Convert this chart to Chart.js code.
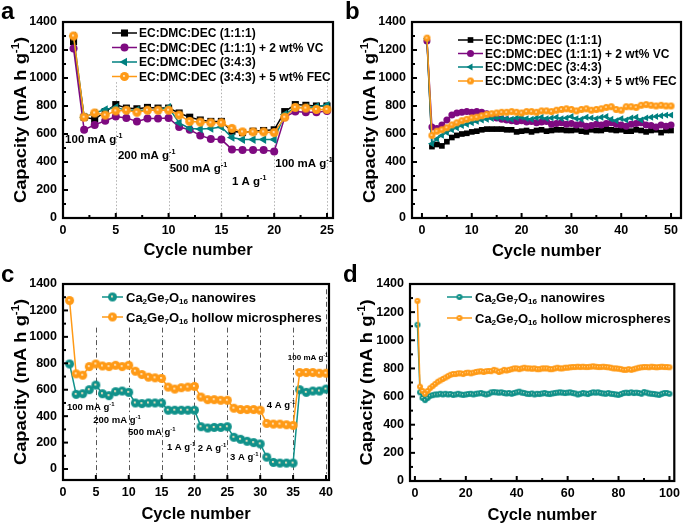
<!DOCTYPE html>
<html>
<head>
<meta charset="utf-8">
<script src="https://cdn.jsdelivr.net/npm/chart.js@4.4.1/dist/chart.umd.min.js"></script>
<style>
  body { margin: 0; background: #fff; width: 685px; height: 524px; overflow: hidden; position: relative; }
  canvas { position: absolute; }
</style>
</head>
<body>
<canvas id="ca" width="342" height="262" style="left:0;top:0"></canvas>
<canvas id="cb" width="343" height="262" style="left:342px;top:0"></canvas>
<canvas id="cc" width="342" height="262" style="left:0;top:262px"></canvas>
<canvas id="cd" width="343" height="262" style="left:342px;top:262px"></canvas>
<script>
const FONT = '"Liberation Sans", Arial, Helvetica, sans-serif';

// shared axis ticks
const yTicks = [0, 200, 400, 600, 800, 1000, 1200, 1400];
const yMinor = [100, 300, 500, 700, 900, 1100, 1300];

// ---- panel a: rate test, four electrolytes (cycles 1..25)
const xTicksA = [0, 5, 10, 15, 20, 25];
const xMinorA = [2.5, 7.5, 12.5, 17.5, 22.5];
const aBlack  = [1260, 720, 705, 760, 810, 785, 780, 790, 785, 785, 750, 720, 700, 690, 690, 620, 610, 620, 625, 630, 760, 810, 805, 800, 800];
const aPurple = [1210, 630, 665, 695, 725, 715, 690, 710, 710, 715, 650, 630, 590, 565, 560, 490, 485, 485, 485, 475, 720, 760, 755, 755, 765];
const aTeal   = [1300, 720, 750, 775, 790, 770, 770, 770, 770, 790, 680, 640, 635, 640, 650, 575, 560, 560, 560, 560, 740, 790, 790, 795, 805];
const aOrange = [1300, 720, 750, 735, 765, 770, 755, 770, 770, 770, 735, 690, 685, 680, 680, 640, 615, 615, 615, 610, 720, 790, 785, 775, 775];

// ---- panel b: cycling, four electrolytes (cycles 1..50)
const xTicksB = [0, 10, 20, 30, 40, 50];
const xMinorB = [5, 15, 25, 35, 45];
const bBlack  = [1270, 510, 525, 515, 545, 575, 590, 600, 605, 615, 620, 630, 635, 635, 635, 635, 630, 630, 615, 620,
                 625, 615, 625, 630, 620, 625, 630, 630, 625, 625, 630, 620, 615, 630, 625, 625, 635, 630, 625, 630,
                 620, 620, 630, 625, 615, 625, 630, 610, 625, 625];
const bPurple = [1265, 650, 640, 665, 700, 735, 750, 755, 760, 755, 760, 755, 745, 730, 715, 705, 700, 695, 690, 695,
                 685, 690, 680, 685, 690, 670, 675, 680, 670, 675, 665, 670, 655, 660, 670, 665, 675, 680, 670, 665,
                 655, 670, 675, 680, 665, 660, 650, 665, 655, 665];
const bTeal   = [1280, 530, 565, 590, 610, 630, 645, 660, 670, 680, 690, 700, 705, 710, 715, 715, 710, 705, 715, 720,
                 710, 705, 715, 720, 710, 715, 720, 710, 715, 725, 710, 705, 720, 715, 710, 720, 725, 705, 695, 710,
                 700, 715, 720, 700, 715, 720, 725, 730, 735, 735];
const bOrange = [1285, 590, 620, 630, 645, 665, 680, 695, 705, 715, 720, 730, 740, 745, 750, 755, 755, 760, 755, 750,
                 760, 760, 755, 765, 765, 760, 770, 775, 780, 775, 765, 775, 780, 770, 775, 780, 790, 795, 775, 770,
                 795, 795, 790, 805, 810, 805, 800, 805, 800, 800];

// ---- panel c: rate test, nanowires vs hollow microspheres (cycles 1..40)
const xTicksC = [0, 5, 10, 15, 20, 25, 30, 35, 40];
const cWires  = [795, 565, 570, 600, 635, 570, 555, 585, 590, 580, 500, 495, 500, 500, 500, 445, 445, 445, 445, 445,
                 320, 310, 315, 315, 320, 240, 225, 210, 200, 190, 90, 50, 45, 45, 45, 600, 580, 590, 590, 605];
const cSpheres = [1275, 720, 710, 775, 795, 780, 775, 785, 775, 785, 740, 715, 695, 690, 685, 620, 605, 615, 620, 625,
                  545, 525, 525, 520, 520, 460, 450, 450, 450, 445, 345, 340, 340, 335, 330, 730, 730, 730, 725, 725];

// ---- panel d: cycling, nanowires vs hollow microspheres (cycles 1..100)
const xTicksD = [0, 20, 40, 60, 80, 100];
const xMinorD = [10, 30, 50, 70, 90];
const dWires = [1110, 630, 590, 575, 590, 605, 610, 615, 615, 620, 615, 620, 615, 618, 612, 615, 620, 615, 612, 615,
                618, 620, 615, 620, 622, 625, 620, 615, 620, 630, 632, 630, 628, 630, 625, 622, 625, 620, 625, 630,
                635, 628, 625, 620, 618, 622, 615, 620, 618, 622, 625, 620, 618, 622, 625, 628, 630, 628, 625, 628,
                630, 625, 622, 615, 620, 625, 622, 618, 625, 630, 628, 630, 625, 622, 620, 625, 620, 618, 615, 612,
                618, 625, 628, 625, 630, 625, 628, 625, 620, 632, 628, 622, 620, 618, 615, 612, 620, 625, 625, 620];
const dSpheres = [1280, 670, 640, 620, 640, 660, 675, 690, 705, 715, 725, 735, 745, 755, 760, 760, 765, 765, 760, 768,
                  770, 765, 770, 775, 778, 780, 775, 780, 782, 780, 790, 785, 775, 780, 790, 785, 790, 795, 800, 800,
                  795, 800, 805, 800, 800, 798, 800, 795, 795, 800, 800, 800, 795, 795, 800, 805, 800, 800, 805, 805,
                  808, 810, 810, 812, 810, 812, 810, 810, 812, 815, 812, 810, 810, 812, 810, 808, 805, 800, 800, 798,
                  795, 790, 790, 795, 790, 795, 800, 805, 808, 810, 810, 808, 812, 810, 808, 810, 812, 810, 810, 808];

const BLACK = '#000000', PURPLE = '#7e0a80', TEAL = '#008080', TEAL2 = '#10918a', ORANGE = '#ff9a16';

function toPts(arr) { return arr.map((v, i) => ({ x: i + 1, y: v })); }

// shaded ball marker (orange / teal circles with a small light centre)
function ball(color, r) {
  const c = document.createElement('canvas');
  const s = Math.ceil(r * 2 + 2);
  c.width = c.height = s;
  const g = c.getContext('2d');
  const m = s / 2;
  const grad = g.createRadialGradient(m - r * 0.15, m - r * 0.15, 0, m, m, r);
  grad.addColorStop(0, '#fffaf0');
  grad.addColorStop(0.12, '#ffe6c0');
  grad.addColorStop(0.35, color);
  grad.addColorStop(1, color);
  g.fillStyle = grad;
  g.beginPath(); g.arc(m, m, r, 0, Math.PI * 2); g.fill();
  return c;
}

function series(label, data, color, style, r, order) {
  const img = style === 'ball' ? ball(color, r) : null;
  return {
    label, data: toPts(data), order,
    borderColor: color, backgroundColor: color, borderWidth: 1.5,
    pointStyle: img || style, pointRadius: r, pointRotation: style === 'triangle' ? -90 : 0,
    pointBorderWidth: 0, pointBackgroundColor: color, pointBorderColor: color,
    tension: 0, fill: false
  };
}

// text with sub/superscripts: parts are strings or [text, 'sub'|'sup']
function richWidth(ctx, parts, size) {
  let w = 0;
  parts.forEach(p => {
    const small = typeof p !== 'string';
    ctx.font = `bold ${small ? size * 0.62 : size}px ${FONT}`;
    w += ctx.measureText(small ? p[0] : p).width;
  });
  return w;
}
function drawRich(ctx, parts, x, y, size, align) {
  let cx = align === 'center' ? x - richWidth(ctx, parts, size) / 2 : x;
  const base = y + size * 0.36;
  ctx.textAlign = 'left'; ctx.textBaseline = 'alphabetic'; ctx.fillStyle = '#000';
  parts.forEach(p => {
    if (typeof p === 'string') {
      ctx.font = `bold ${size}px ${FONT}`;
      ctx.fillText(p, cx, base);
      cx += ctx.measureText(p).width;
    } else {
      ctx.font = `bold ${size * 0.62}px ${FONT}`;
      const dy = p[1] === 'sup' ? -size * 0.42 : size * 0.2;
      ctx.fillText(p[0], cx, base + dy);
      cx += ctx.measureText(p[0]).width;
    }
  });
}

const decor = {
  id: 'decor',
  beforeDatasetsDraw(chart, args, o) {
    const { ctx } = chart, x = chart.scales.x, y = chart.scales.y;
    (o.vlines || []).forEach(v => {
      ctx.save();
      ctx.strokeStyle = v.color; ctx.lineWidth = 1; ctx.setLineDash(v.dash);
      ctx.beginPath();
      const px = Math.round(x.getPixelForValue(v.x)) + 0.5;
      ctx.moveTo(px, y.getPixelForValue(v.from));
      ctx.lineTo(px, chart.chartArea.bottom);
      ctx.stroke();
      ctx.restore();
    });
  },
  afterDraw(chart, args, o) {
    const { ctx, chartArea: a } = chart, x = chart.scales.x, y = chart.scales.y;
    ctx.save();
    // inward ticks
    ctx.strokeStyle = '#000'; ctx.lineWidth = 2;
    const tick = (px, py, dx, dy) => { ctx.beginPath(); ctx.moveTo(px, py); ctx.lineTo(px + dx, py + dy); ctx.stroke(); };
    o.xTicks.forEach(v => tick(x.getPixelForValue(v), a.bottom, 0, -5));
    (o.xMinor || []).forEach(v => tick(x.getPixelForValue(v), a.bottom, 0, -3));
    yTicks.forEach(v => tick(a.left, y.getPixelForValue(v), 5, 0));
    yMinor.forEach(v => tick(a.left, y.getPixelForValue(v), 3, 0));
    // frame
    ctx.lineWidth = 2.2;
    ctx.strokeRect(a.left, a.top, a.right - a.left, a.bottom - a.top);
    // axis titles
    drawRich(ctx, ['Cycle number'], (a.left + a.right) / 2, o.xTitleY, 16.5, 'center');
    ctx.save();
    ctx.translate(o.yTitleX, (a.top + a.bottom) / 2);
    ctx.rotate(-Math.PI / 2);
    ctx.scale(1.08, 1);
    drawRich(ctx, ['Capacity (mA h g', ['-1', 'sup'], ')'], 0, 0, 17, 'center');
    ctx.restore();
    // panel letter
    ctx.font = `bold 24px ${FONT}`; ctx.textAlign = 'left'; ctx.textBaseline = 'alphabetic';
    ctx.fillText(o.letter, o.letterX, o.letterY);
    // legend
    const L = o.legend;
    chart.data.datasets.forEach((ds, i) => {
      const ly = L.rows[i];
      ctx.strokeStyle = ds.borderColor; ctx.lineWidth = 1.5;
      ctx.beginPath(); ctx.moveTo(L.x1, ly); ctx.lineTo(L.x2, ly); ctx.stroke();
      const mx = (L.x1 + L.x2) / 2;
      if (ds.pointStyle instanceof HTMLCanvasElement) {
        const im = ds.pointStyle;
        ctx.drawImage(im, mx - im.width / 2, ly - im.height / 2);
      } else {
        ctx.fillStyle = ds.backgroundColor;
        Chart.helpers.drawPoint(ctx, { pointStyle: ds.pointStyle, radius: ds.pointRadius, rotation: ds.pointRotation, borderWidth: 0 }, mx, ly);
      }
      drawRich(ctx, L.labels[i], L.tx, ly, L.size, 'left');
    });
    // current density annotations
    (o.notes || []).forEach(n => {
      drawRich(ctx, n.t, x.getPixelForValue(n.x), y.getPixelForValue(n.y), n.size, 'left');
    });
    ctx.restore();
  }
};

function makeChart(id, c) {
  const tickFont = { family: FONT, size: 12.5, weight: 'bold' };
  return new Chart(document.getElementById(id), {
    type: 'line',
    data: { datasets: c.datasets },
    options: {
      responsive: false, animation: false,
      layout: { padding: { top: c.padTop, right: c.padRight, left: 0, bottom: 0 } },
      plugins: { legend: { display: false }, tooltip: { enabled: false }, decor: c.decor },
      scales: {
        x: {
          type: 'linear', min: c.xMin, max: c.xMax,
          grid: { display: false, drawTicks: false }, border: { display: false },
          afterBuildTicks: s => { s.ticks = c.decor.xTicks.map(v => ({ value: v })); },
          afterFit: s => { s.height = c.xAxisH; },
          ticks: { font: tickFont, color: '#000', padding: 5, maxRotation: 0, autoSkip: false, callback: v => String(v) }
        },
        y: {
          type: 'linear', min: c.yMin, max: 1400,
          grid: { display: false, drawTicks: false }, border: { display: false },
          afterBuildTicks: s => { s.ticks = yTicks.map(v => ({ value: v })); },
          afterFit: s => { s.width = c.yAxisW; },
          ticks: { font: tickFont, color: '#000', padding: 6, autoSkip: false, callback: v => String(v) }
        }
      }
    },
    plugins: [decor]
  });
}

const sup1 = ['-1', 'sup'];
const elecLabels = [
  ['EC:DMC:DEC (1:1:1)'],
  ['EC:DMC:DEC (1:1:1) + 2 wt% VC'],
  ['EC:DMC:DEC (3:4:3)'],
  ['EC:DMC:DEC (3:4:3) + 5 wt% FEC']
];
const cgoLabels = [
  ['Ca', ['2', 'sub'], 'Ge', ['7', 'sub'], 'O', ['16', 'sub'], ' nanowires'],
  ['Ca', ['2', 'sub'], 'Ge', ['7', 'sub'], 'O', ['16', 'sub'], ' hollow microspheres']
];
const greyDots = { color: '#b0b0b0', dash: [1.5, 2] };
const dashDot = { color: '#555555', dash: [5, 3, 1.5, 3] };

makeChart('ca', {
  xMin: 0, xMax: 25.57, yMin: 0, padTop: 22, padRight: 9, xAxisH: 44, yAxisW: 63,
  datasets: [
    series('EC:DMC:DEC (1:1:1)', aBlack, BLACK, 'rect', 5, 3),
    series('EC:DMC:DEC (1:1:1) + 2 wt% VC', aPurple, PURPLE, 'circle', 4, 2),
    series('EC:DMC:DEC (3:4:3)', aTeal, TEAL, 'triangle', 5, 1),
    series('EC:DMC:DEC (3:4:3) + 5 wt% FEC', aOrange, ORANGE, 'ball', 4.5, 0)
  ],
  decor: {
    xTicks: xTicksA, xMinor: xMinorA, xTitleY: 249, yTitleX: 20, letter: 'a', letterX: 1, letterY: 19,
    vlines: [5, 10, 15, 20, 25].map(v => ({ x: v, from: 970, ...greyDots })),
    legend: { x1: 112, x2: 137, tx: 139, rows: [33, 47.5, 62, 76.5], size: 12, labels: elecLabels },
    notes: [
      { t: ['100 mA g', sup1], x: 0.2, y: 564, size: 11.5 },
      { t: ['200 mA g', sup1], x: 5.2, y: 450, size: 11.5 },
      { t: ['500 mA g', sup1], x: 10.1, y: 357, size: 11.5 },
      { t: ['1 A g', sup1], x: 16.0, y: 264, size: 11.5 },
      { t: ['100 mA g', sup1], x: 20.1, y: 393, size: 11.5 }
    ]
  }
});

makeChart('cb', {
  xMin: -2, xMax: 52, yMin: 0, padTop: 22, padRight: 4, xAxisH: 44, yAxisW: 70,
  datasets: [
    series('EC:DMC:DEC (1:1:1)', bBlack, BLACK, 'rect', 4, 3),
    series('EC:DMC:DEC (1:1:1) + 2 wt% VC', bPurple, PURPLE, 'circle', 3.5, 2),
    series('EC:DMC:DEC (3:4:3)', bTeal, TEAL, 'triangle', 4, 1),
    series('EC:DMC:DEC (3:4:3) + 5 wt% FEC', bOrange, ORANGE, 'ball', 3.5, 0)
  ],
  decor: {
    xTicks: xTicksB, xMinor: xMinorB, xTitleY: 250, yTitleX: 27, letter: 'b', letterX: 3, letterY: 19,
    legend: { x1: 116, x2: 141, tx: 143, rows: [40, 53.5, 67, 81], size: 12, labels: elecLabels }
  }
});

makeChart('cc', {
  xMin: 0, xMax: 40.46, yMin: -83, padTop: 22, padRight: 13, xAxisH: 44, yAxisW: 63,
  datasets: [
    series('nanowires', cWires, TEAL2, 'ball', 4.5, 1),
    series('hollow microspheres', cSpheres, ORANGE, 'ball', 4.5, 0)
  ],
  decor: {
    xTicks: xTicksC, xTitleY: 251, yTitleX: 20, letter: 'c', letterX: 1, letterY: 20,
    vlines: [5, 10, 15, 20, 25, 30, 35].map(v => ({ x: v, from: 1070, ...dashDot })).concat([{ x: 40, from: 1360, ...dashDot }]),
    legend: { x1: 102, x2: 123, tx: 126, rows: [35, 55], size: 13, labels: cgoLabels },
    notes: [
      { t: ['100 mA g', sup1], x: 0.6, y: 471, size: 9.5 },
      { t: ['200 mA g', sup1], x: 4.6, y: 372, size: 9.5 },
      { t: ['500 mA g', sup1], x: 9.9, y: 281, size: 9.5 },
      { t: ['1 A g', sup1], x: 15.8, y: 170, size: 9.5 },
      { t: ['2 A g', sup1], x: 20.5, y: 165, size: 9.5 },
      { t: ['3 A g', sup1], x: 25.4, y: 91, size: 9.5 },
      { t: ['4 A g', sup1], x: 31.0, y: 486, size: 9.5 },
      { t: ['100 mA g', sup1], x: 34.2, y: 843, size: 8 }
    ]
  }
});

makeChart('cd', {
  xMin: -1.93, xMax: 101.9, yMin: 0, padTop: 22, padRight: 6, xAxisH: 43, yAxisW: 68,
  datasets: [
    series('nanowires', dWires, TEAL2, 'ball', 3, 1),
    series('hollow microspheres', dSpheres, ORANGE, 'ball', 3, 0)
  ],
  decor: {
    xTicks: xTicksD, xMinor: xMinorD, xTitleY: 252, yTitleX: 24, letter: 'd', letterX: 1, letterY: 20,
    legend: { x1: 105, x2: 130, tx: 133, rows: [35, 56], size: 13, labels: cgoLabels }
  }
});
</script>
</body>
</html>
